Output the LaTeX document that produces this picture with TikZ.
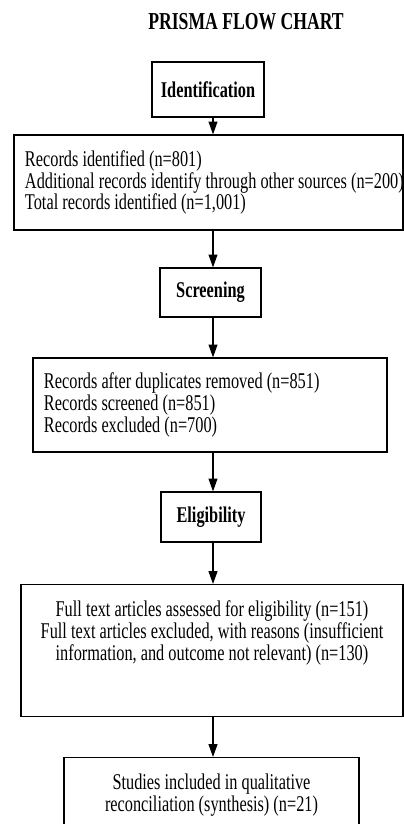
\documentclass[tikz,border=0pt]{standalone}
\usepackage{fontspec}
\setmainfont[FakeStretch=0.725]{Liberation Serif}
\usetikzlibrary{calc, positioning, arrows.meta}

\newcommand{\chartfont}{\fontsize{16}{15.6}\selectfont}

\tikzset{
  stage/.style={draw, line width=0.8pt, font=\chartfont\bfseries},
  infobox/.style={draw, line width=0.8pt, inner xsep=0.275cm, font=\chartfont},
  flow/.style={line width=1pt, -{Triangle[length=0.32cm, width=0.22cm]}},
}

\begin{document}
\begin{tikzpicture}
\path[use as bounding box, clip] (0,0) rectangle (10.1,-20.6);
\coordinate (axis) at (5.325,0);

\node (title) at (6.15,-0.55) {\fontsize{17.3}{18}\selectfont\bfseries PRISMA FLOW CHART};

\node[stage, minimum width=2.8cm, minimum height=1.375cm] (ident) at (5.2,-2.2375) {Identification};
\node[infobox, text width=9.175cm, minimum height=2.375cm, align=flush left] (records) at (5.2125,-4.5625)
  {Records identified (n=801)\\
   \mbox{Additional records identify through other sources (n=200)}\\
   Total records identified (n=1,001)};

\node[stage, minimum width=2.525cm, minimum height=1.225cm] (screen) at (5.2625,-7.3125) {Screening};
\node[infobox, text width=8.3cm, minimum height=2.35cm, align=flush left] (dups) at (5.25,-10.125)
  {Records after duplicates removed (n=851)\\
   Records screened (n=851)\\
   Records excluded (n=700)};

\node[stage, minimum width=2.5cm, minimum height=1.25cm] (elig) at (5.275,-12.925) {Eligibility};
\node[infobox, text width=9cm, align=flush center, anchor=north, inner ysep=0.47cm,
      text height=0.32cm, text depth=2.04cm] (fulltext) at (5.3,-14.6)
  {Full text articles assessed for eligibility (n=151)\\
   Full text articles excluded, with reasons (insufficient\\
   information, and outcome not relevant) (n=130)};

\node[infobox, text width=6.825cm, align=flush center, anchor=north, inner ysep=0.47cm,
      text height=0.32cm, text depth=2.5cm] (included) at (5.2875,-18.925)
  {Studies included in qualitative\\
   reconciliation (synthesis) (n=21)};

% arrows down the chart
\foreach \a/\b in {ident/records, records/screen, screen/dups, dups/elig, elig/fulltext, fulltext/included}
  \draw[flow] (\a.south -| axis) -- (\b.north -| axis);
\end{tikzpicture}
\end{document}
